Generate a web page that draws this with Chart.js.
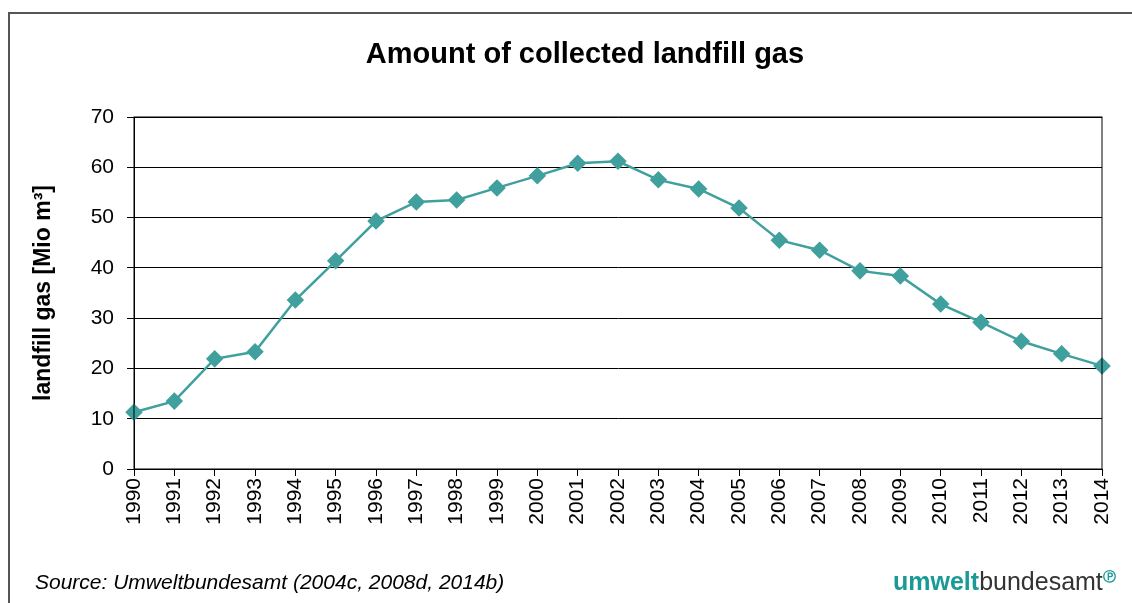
<!DOCTYPE html>
<html>
<head>
<meta charset="utf-8">
<script src="https://cdn.jsdelivr.net/npm/chart.js@4"></script>
<style>
  body { margin: 0; background: #fff; font-family: "Liberation Sans", Arial, sans-serif; }
  #wrap { position: relative; width: 1132px; height: 603px; overflow: hidden; }
  #rahmen { position: absolute; left: 8px; top: 12px; width: 1200px; height: 700px; border: 2px solid #555; }
  #titel { position: absolute; left: 0; width: 1170px; top: 37px; text-align: center; font-size: 29px; font-weight: bold; color: #000; }
  #quelle { position: absolute; left: 35px; top: 570px; font-size: 21px; font-style: italic; color: #000; }
  #logo { position: absolute; left: 893px; top: 567px; font-size: 25px; color: #333; }
  #logo b { color: #1a9a96; }
  #logo sup { color: #1a9a96; font-size: 13px; font-weight: bold; }
  canvas { position: absolute; left: 0; top: 0; }
</style>
</head>
<body>
<div id="wrap">
  <div id="rahmen"></div>
  <canvas id="grafico" width="1132" height="603"></canvas>
  <div id="titel">Amount of collected landfill gas</div>
  <div id="quelle">Source: Umweltbundesamt (2004c, 2008d, 2014b)</div>
  <div id="logo"><b>umwelt</b>bundesamt<sup>&#9413;</sup></div>
</div>
<script>
const anos = ["1990", "1991", "1992", "1993", "1994", "1995", "1996", "1997", "1998", "1999",
  "2000", "2001", "2002", "2003", "2004", "2005", "2006", "2007", "2008", "2009",
  "2010", "2011", "2012", "2013", "2014"];
const gasDeposito = [11.3, 13.5, 21.9, 23.3, 33.6, 41.4, 49.3, 53.1, 53.5, 55.9,
  58.3, 60.8, 61.2, 57.5, 55.7, 51.9, 45.5, 43.5, 39.4, 38.4,
  32.8, 29.2, 25.4, 22.9, 20.5];
const ticksY = [0, 10, 20, 30, 40, 50, 60, 70];

// moldura da area do grafico (linha de cima e da direita)
const moldura = {
  id: "moldura",
  afterDraw(chart) {
    const { ctx, chartArea } = chart;
    ctx.save();
    ctx.strokeStyle = "#000";
    ctx.lineWidth = 1;
    ctx.strokeRect(chartArea.left, chartArea.top, chartArea.right - chartArea.left, chartArea.bottom - chartArea.top);
    ctx.restore();
  }
};

const ctx = document.getElementById("grafico").getContext("2d");
new Chart(ctx, {
  type: "line",
  data: {
    labels: anos,
    datasets: [{
      data: gasDeposito,
      borderColor: "#40a09e",
      backgroundColor: "#40a09e",
      borderWidth: 2.5,
      pointStyle: "rectRot",
      pointRadius: 7,
      pointHoverRadius: 7,
      tension: 0
    }]
  },
  options: {
    responsive: false,
    animation: false,
    devicePixelRatio: 1,
    layout: { padding: { top: 117, right: 30, bottom: 60, left: 0 } },
    plugins: {
      legend: { display: false },
      tooltip: { enabled: false }
    },
    scales: {
      x: {
        afterFit: s => { s.height = 74; },
        grid: { drawOnChartArea: false, tickLength: 7, color: "#000" },
        border: { color: "#000" },
        ticks: {
          minRotation: 90, maxRotation: 90, padding: 2, autoSkip: false,
          color: "#000", font: { family: "Liberation Sans", size: 21 }
        }
      },
      y: {
        min: 0, max: 70,
        afterFit: s => { s.width = 134; },
        afterBuildTicks: s => { s.ticks = ticksY.map(v => ({ value: v })); },
        grid: { color: "#000", tickLength: 7 },
        border: { color: "#000" },
        ticks: { padding: 13, color: "#000", font: { family: "Liberation Sans", size: 21 } },
        title: {
          display: true,
          text: "landfill gas [Mio m\u00b3]",
          color: "#000",
          padding: { top: 30, bottom: 0 },
          font: { family: "Liberation Sans", size: 23, weight: "bold" }
        }
      }
    }
  },
  plugins: [moldura]
});
</script>
</body>
</html>
